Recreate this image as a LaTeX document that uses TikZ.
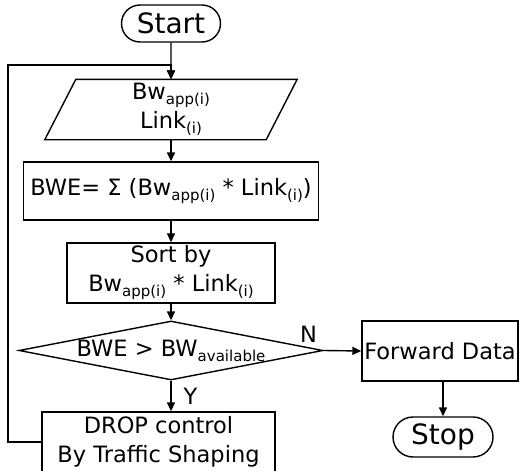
\documentclass[tikz,border=0pt]{standalone}
\usepackage{fontspec}
\setmainfont{DejaVu Sans}
\usetikzlibrary{shapes.geometric,shapes.misc,arrows.meta}
% lowered, smaller index text
\newcommand{\lowsub}[1]{\raisebox{-5pt}{\fontsize{15}{15}\selectfont #1}}
\begin{document}
\begin{tikzpicture}[x=1pt,y=-1pt,line width=1.4pt,
  box/.style={draw,rectangle,inner sep=0pt,align=center,font=\fontsize{22.5}{29}\selectfont},
  term/.style={draw,rounded rectangle,inner sep=0pt,font=\fontsize{28}{30}\selectfont},
  flow/.style={-{Triangle[length=9pt,width=8pt]}},
  lbl/.style={font=\fontsize{22.5}{24}\selectfont,inner sep=0pt}]
\useasboundingbox (0,0) rectangle (520,471);
\clip (0,0) rectangle (520,471);

% terminals
\node[term,minimum width=99pt,minimum height=37pt] (start) at (171,23.5) {Start};
\node[term,minimum width=100pt,minimum height=40pt] (stop) at (443,437) {Stop};

% input parallelogram
\node[box,draw=none,minimum width=220pt,minimum height=59pt] (inp) at (171,109.5)
  {Bw\lowsub{app(i)}\\Link\lowsub{(i)}};
\draw ([xshift=15.5pt]inp.north west) -- ([xshift=15.5pt]inp.north east)
  -- ([xshift=-15.5pt]inp.south east) -- ([xshift=-15.5pt]inp.south west) -- cycle;

% process boxes
\node[box,minimum width=295pt,minimum height=58pt] (bwe) at (171,191)
  {BWE= Σ (Bw\lowsub{app(i)} * Link\lowsub{(i)})};
\node[box,minimum width=208pt,minimum height=60pt] (sort) at (171,273)
  {Sort by\\Bw\lowsub{app(i)} * Link\lowsub{(i)}};

% decision
\node[draw,diamond,minimum width=304pt,minimum height=59pt,inner sep=0pt] (dec) at (171,350.5) {};
\node[lbl] (dectext) at (dec.center) {BWE > BW\lowsub{available}};

\node[box,minimum width=156pt,minimum height=60pt] (fwd) at (440,351) {Forward Data};
\node[box,minimum width=233pt,minimum height=60pt] (drop) at (158.5,442)
  {DROP control\\By Traffic Shaping};

% connectors
\coordinate (lp) at (8,65);
\draw[flow] (start) -- (inp);
\draw[flow] (inp.south) -- (inp.south |- bwe.north);
\draw[flow] (bwe.south) -- (bwe.south |- sort.north);
\draw[flow] (sort.south) -- (dec.north);
\draw[flow] (dec.south) -- node[lbl,anchor=west,xshift=12pt] {Y} (dec.south |- drop.north);
\draw[flow] (dec.east) node[lbl,anchor=south east,xshift=-6pt,yshift=7pt] {N} -- (fwd.west);
\draw[flow] (fwd.south -| stop.north) -- (stop.north);
\draw[flow] (drop.west) -| (lp) -- (lp -| inp.north) -- (inp.north);
\end{tikzpicture}
\end{document}
